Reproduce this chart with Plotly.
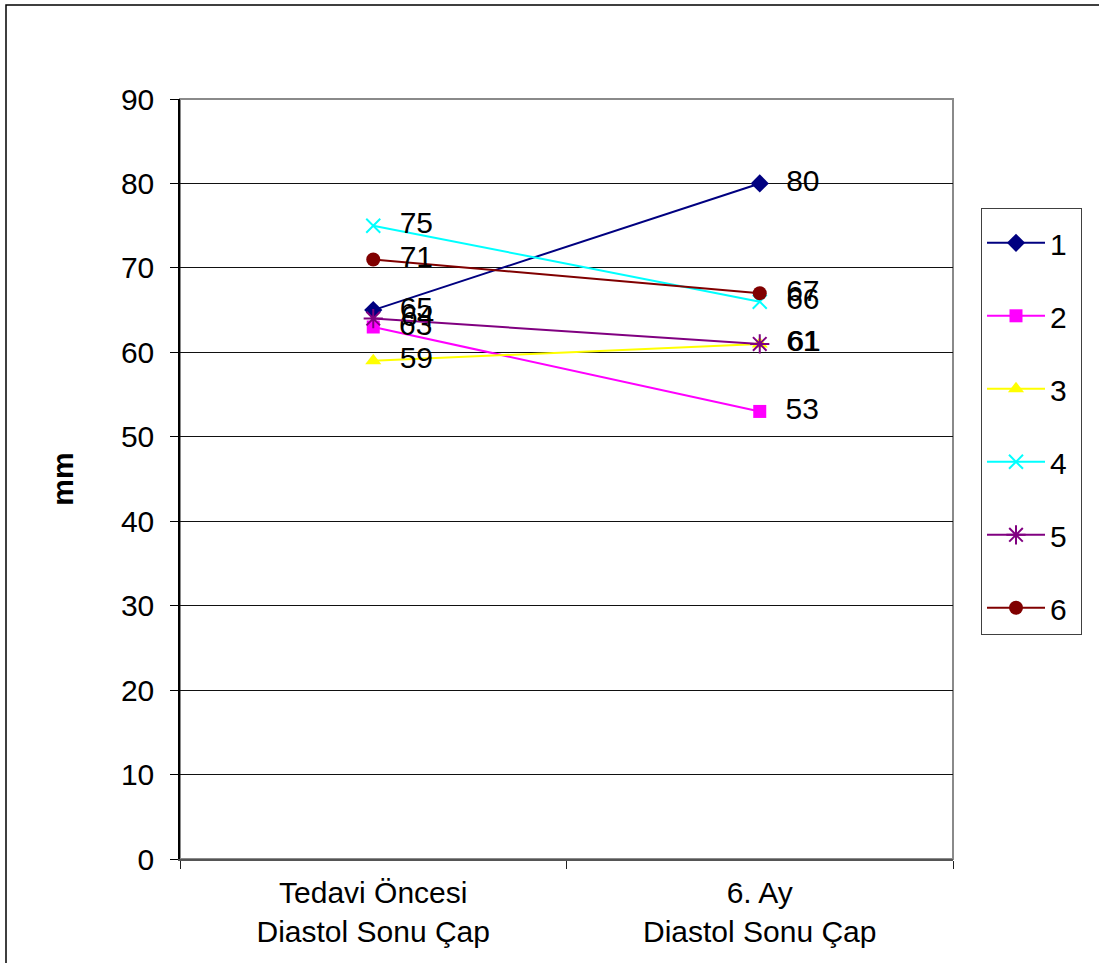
import plotly.graph_objects as go

# Left ventricular end-diastolic diameter, before treatment and at month 6
categories = ["Tedavi Öncesi<br>Diastol Sonu Çap", "6. Ay<br>Diastol Sonu Çap"]
series_names = ["1", "2", "3", "4", "5", "6"]
s1 = [65, 80]
s2 = [63, 53]
s3 = [59, 61]
s4 = [75, 66]
s5 = [64, 61]
s6 = [71, 67]
y_ticks = [0, 10, 20, 30, 40, 50, 60, 70, 80, 90]

values = [s1, s2, s3, s4, s5, s6]
colors = ["#000080", "#FF00FF", "#FFFF00", "#00FFFF", "#800080", "#800000"]
symbols = ["diamond", "square", "triangle-up", "x-thin-open", "asterisk-open", "circle"]
sizes = [14, 13, 14, 14, 16, 14]

FONT = "Liberation Sans, Arial, sans-serif"
FS = 30
GAP = "\u00a0\u00a0"

fig = go.Figure()
for name, vals, col, sym, sz in zip(series_names, values, colors, symbols, sizes):
    fig.add_trace(go.Scatter(
        x=categories, y=vals, name=name + "\u00a0",
        mode="lines+markers+text",
        text=[GAP + str(v) for v in vals],
        textposition="middle right",
        textfont=dict(family=FONT, size=FS, color="black"),
        line=dict(color=col, width=2),
        marker=dict(symbol=sym, size=sz, color=col,
                    line=dict(color=col, width=2 if "open" in sym else 0)),
        legendgroup=name,
        cliponaxis=False,
    ))

W, H = 1099, 963
L, R, T, B = 180, 953, 99, 859

fig.update_layout(
    width=W, height=H,
    margin=dict(l=L, r=W - R, t=T, b=H - B, autoexpand=False),
    paper_bgcolor="white", plot_bgcolor="white",
    font=dict(family=FONT, size=FS, color="black"),
    showlegend=True,
    legend=dict(
        x=(981 - L) / (R - L), y=(B - 208) / (B - T),
        xanchor="left", yanchor="top",
        bordercolor="#404040", borderwidth=1, bgcolor="white",
        font=dict(family=FONT, size=FS, color="black"),
        title=dict(text=" ", font=dict(size=6)),
        tracegroupgap=31,
        itemwidth=58,
    ),
    xaxis=dict(
        type="category", range=[-0.5, 1.5],
        tickson="boundaries", ticks="outside", ticklen=8, tickcolor="#202020",
        showgrid=False, showline=True, linecolor="#555555", linewidth=2,
        tickfont=dict(family=FONT, size=FS, color="black"),
        ticklabelstandoff=6,
    ),
    yaxis=dict(
        range=[0, 90], tickvals=y_ticks,
        ticks="outside", ticklen=8, tickcolor="black",
        showgrid=True, gridcolor="#111111", gridwidth=1,
        showline=True, linecolor="black", linewidth=1.5,
        zeroline=False,
        tickfont=dict(family=FONT, size=FS, color="black"),
        ticklabelstandoff=10,
        title=dict(text="<b>mm</b>", font=dict(family=FONT, size=FS, color="black"), standoff=38),
    ),
    shapes=[
        # plot-area frame
        dict(type="rect", xref="paper", yref="paper", x0=0, x1=1, y0=0, y1=1,
             line=dict(color="#8a8a8a", width=2), layer="below"),
        # chart-area border
        dict(type="rect", xref="paper", yref="paper",
             x0=(6 - L) / (R - L), x1=1.25,
             y0=-0.2, y1=(B - 5) / (B - T),
             line=dict(color="black", width=1.5), layer="below"),
    ],
)

fig.write_html("out.html")
